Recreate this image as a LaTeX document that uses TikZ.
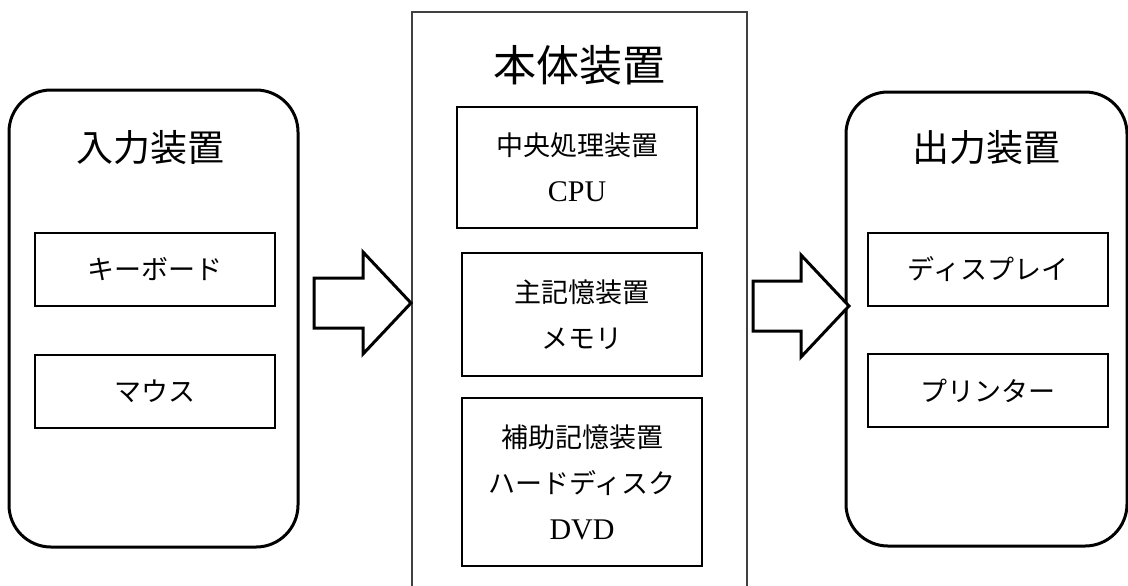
\documentclass[tikz,border=0pt]{standalone}
\usepackage{fontspec}
\setmainfont{Liberation Serif}
\newfontfamily\jp{Noto Sans CJK JP}
\newcommand{\latin}[1]{{\rmfamily\fontsize{15}{23}\selectfont #1}}

\begin{document}
\begin{tikzpicture}[x=0.5pt,y=-0.5pt]
    \tikzstyle{group}=[draw,line width=1.5pt,rounded corners=21pt]
    \tikzstyle{unit}=[draw,line width=0.6pt,minimum width=120pt,align=center,font=\jp\fontsize{13.5}{23}\selectfont]
    \tikzstyle{title}=[font=\jp\fontsize{18.5}{22}\selectfont]
    \tikzstyle{bigarrow}=[draw,line width=1.5pt,fill=white]

\useasboundingbox (0,0) rectangle (1128,585);
\clip (0,0) rectangle (1128,585);

% input side
\node[group,minimum width=144.5pt,minimum height=228.5pt] (in) at (153.5,318.5) {};
\node[title] (tin) at (150,148) {入力装置};
\node[unit,minimum height=36.5pt] (kb) at (155,269.5) {キーボード};
\node[unit,minimum height=36.5pt] (ms) at (155,391.5) {マウス};

% main unit
\node[draw=black!75,line width=1pt,minimum width=167.5pt,minimum height=294pt] (body) at (579.5,306) {};
\node[title,font=\jp\fontsize{21.5}{25}\selectfont] (tbody) at (579,65) {本体装置};
\node[unit,minimum height=60.5pt] (cpu) at (577,167.5) {中央処理装置\\\latin{CPU}};
\node[unit,minimum height=61.5pt] (mem) at (582,314.5) {主記憶装置\\メモリ};
\node[unit,minimum height=84pt] (aux) at (582,482) {補助記憶装置\\ハードディスク\\\latin{DVD}};

% output side
\node[group,minimum width=140.5pt,minimum height=227pt] (out) at (986.5,319) {};
\node[title] (tout) at (986,148) {出力装置};
\node[unit,minimum height=36.5pt] (dsp) at (988,269.5) {ディスプレイ};
\node[unit,minimum height=36.5pt] (prn) at (988,390.5) {プリンター};

% block arrows
\coordinate (t1) at (body.west |- 0,303);
\coordinate (t2) at ([xshift=2.25pt]out.west |- 0,306);
\draw[bigarrow] (t1) -- ++(-48,-51) -- ++(0,26) -- ++(-49,0) -- ++(0,50) -- ++(49,0) -- ++(0,26) -- cycle;
\draw[bigarrow] (t2) -- ++(-48,-51) -- ++(0,26) -- ++(-48,0) -- ++(0,50) -- ++(48,0) -- ++(0,26) -- cycle;
\end{tikzpicture}
\end{document}
